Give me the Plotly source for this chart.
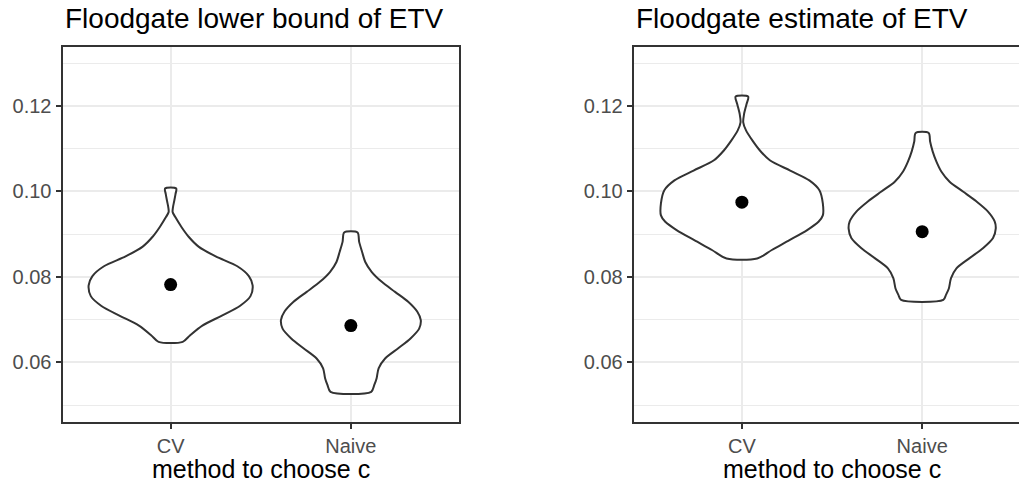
import plotly.graph_objects as go

categories = ["CV", "Naive"]
cat_pos = [1, 2]
panel_titles = ["Floodgate lower bound of ETV", "Floodgate estimate of ETV"]
x_title = "method to choose c"
y_tickvals = [0.06, 0.08, 0.10, 0.12]
y_minor = [0.05, 0.07, 0.09, 0.11, 0.13]

# density outlines: y levels and half-widths (category units)
lb_cv_y = [0.0648, 0.0663, 0.0686, 0.0709, 0.0732, 0.0755, 0.0780, 0.0802, 0.0825,
           0.0848, 0.0871, 0.0894, 0.0917, 0.0940, 0.0952, 0.0963, 0.0978, 0.0994, 0.1007]
lb_cv_w = [0.067, 0.107, 0.176, 0.282, 0.384, 0.443, 0.455, 0.434, 0.370,
           0.250, 0.155, 0.100, 0.060, 0.026, 0.011, 0.013, 0.020, 0.027, 0.031]

lb_nv_y = [0.0531, 0.0547, 0.0563, 0.0586, 0.0609, 0.0633, 0.0656, 0.0679, 0.0699,
           0.0719, 0.0742, 0.0765, 0.0789, 0.0812, 0.0835, 0.0859, 0.0882, 0.0904]
lb_nv_w = [0.113, 0.130, 0.143, 0.154, 0.190, 0.263, 0.331, 0.379, 0.388,
           0.368, 0.318, 0.245, 0.170, 0.115, 0.080, 0.062, 0.046, 0.037]

est_cv_y = [0.0843, 0.0863, 0.0886, 0.0909, 0.0929, 0.0944, 0.0972, 0.1003, 0.1026,
            0.1049, 0.1073, 0.1096, 0.1119, 0.1143, 0.1162, 0.1181, 0.1205, 0.1222]
est_cv_w = [0.085, 0.166, 0.264, 0.360, 0.425, 0.449, 0.449, 0.430, 0.374,
            0.268, 0.155, 0.100, 0.059, 0.023, 0.0075, 0.012, 0.026, 0.035]

est_nv_y = [0.0746, 0.0758, 0.0773, 0.0797, 0.0820, 0.0844, 0.0867, 0.0891, 0.0913,
            0.0930, 0.0953, 0.0977, 0.1000, 0.1023, 0.1047, 0.1070, 0.1094, 0.1117, 0.1137]
est_nv_w = [0.117, 0.132, 0.148, 0.160, 0.190, 0.263, 0.337, 0.393, 0.408,
            0.402, 0.365, 0.300, 0.226, 0.152, 0.106, 0.079, 0.058, 0.044, 0.036]

lb_means = [0.0782, 0.0686]
est_means = [0.0975, 0.0906]

panels = [
    [(lb_cv_y, lb_cv_w), (lb_nv_y, lb_nv_w)],
    [(est_cv_y, est_cv_w), (est_nv_y, est_nv_w)],
]
means = [lb_means, est_means]

W, H = 1019, 486
FONT = "Liberation Sans, Arial, Helvetica, sans-serif"
BORDER = "#333333"
GRID = "#EBEBEB"


def px_x(v):
    return v / W


def px_y(v):
    return (H - v) / H


fig = go.Figure()

for p in range(2):
    xa = "x" if p == 0 else "x2"
    ya = "y" if p == 0 else "y2"
    for c, (ys, ws) in zip(cat_pos, panels[p]):
        xs = [c + w for w in ws] + [c - w for w in reversed(ws)]
        yy = list(ys) + list(reversed(ys))
        xs.append(xs[0])
        yy.append(yy[0])
        fig.add_trace(go.Scatter(
            x=xs, y=yy, mode="lines", fill="toself", fillcolor="white",
            line=dict(color=BORDER, width=2, shape="spline", smoothing=0.8),
            xaxis=xa, yaxis=ya, showlegend=False, hoverinfo="skip"))
    fig.add_trace(go.Scatter(
        x=cat_pos, y=means[p], mode="markers",
        marker=dict(color="black", size=13),
        xaxis=xa, yaxis=ya, showlegend=False))

STEP = 180.3
left_dom = [px_x(62.5), px_x(459)]
right_dom = [px_x(633.7), 1.0]
ydom = [px_y(421.7), px_y(46.7)]
yr = [0.0461, 0.1339]
right_xmax = 0.4 + (W - 633.7) / STEP

common_x = dict(
    tickmode="array", tickvals=cat_pos, ticktext=categories,
    showgrid=True, gridcolor=GRID, gridwidth=2,
    showline=True, linecolor=BORDER, linewidth=2, mirror=True,
    ticks="outside", ticklen=5, tickwidth=2, tickcolor=BORDER,
    tickfont=dict(family=FONT, size=20, color="#4D4D4D"),
    zeroline=False, fixedrange=True,
)
common_y = dict(
    range=yr, domain=ydom,
    tickmode="array", tickvals=y_tickvals,
    ticktext=[f"{v:.2f}" for v in y_tickvals],
    showgrid=True, gridcolor=GRID, gridwidth=2,
    minor=dict(tickvals=y_minor, showgrid=True, gridcolor=GRID, gridwidth=1, ticks=""),
    showline=True, linecolor=BORDER, linewidth=2,
    ticks="outside", ticklen=5, tickwidth=2, tickcolor=BORDER,
    tickfont=dict(family=FONT, size=20, color="#4D4D4D"),
    zeroline=False, fixedrange=True,
)

fig.update_layout(
    width=W, height=H,
    margin=dict(l=0, r=0, t=0, b=0),
    paper_bgcolor="white", plot_bgcolor="white",
    xaxis=dict(common_x, domain=left_dom, range=[0.4, 2.6], anchor="y"),
    yaxis=dict(common_y, anchor="x", mirror=True),
    xaxis2=dict(common_x, domain=right_dom, range=[0.4, right_xmax], anchor="y2"),
    yaxis2=dict(common_y, anchor="x2", mirror=False),
    showlegend=False,
)

anns = []
for p, (x0, x1) in enumerate([(62.5, 459), (633.7, 633.7 + 2.2 * STEP)]):
    anns.append(dict(text=panel_titles[p], xref="paper", yref="paper",
                     x=px_x(x0), y=px_y(18), xanchor="left", yanchor="middle",
                     showarrow=False, font=dict(family=FONT, size=28, color="black")))
    anns.append(dict(text=x_title, xref="paper", yref="paper",
                     x=px_x((x0 + x1) / 2), y=px_y(469), xanchor="center", yanchor="middle",
                     showarrow=False, font=dict(family=FONT, size=25, color="black")))
fig.update_layout(annotations=anns)

fig.write_html(
    "out.html",
    config={"displayModeBar": False, "staticPlot": True},
    post_script="document.documentElement.style.margin='0';"
                "document.body.style.margin='0';"
                "document.body.style.overflow='hidden';",
)
